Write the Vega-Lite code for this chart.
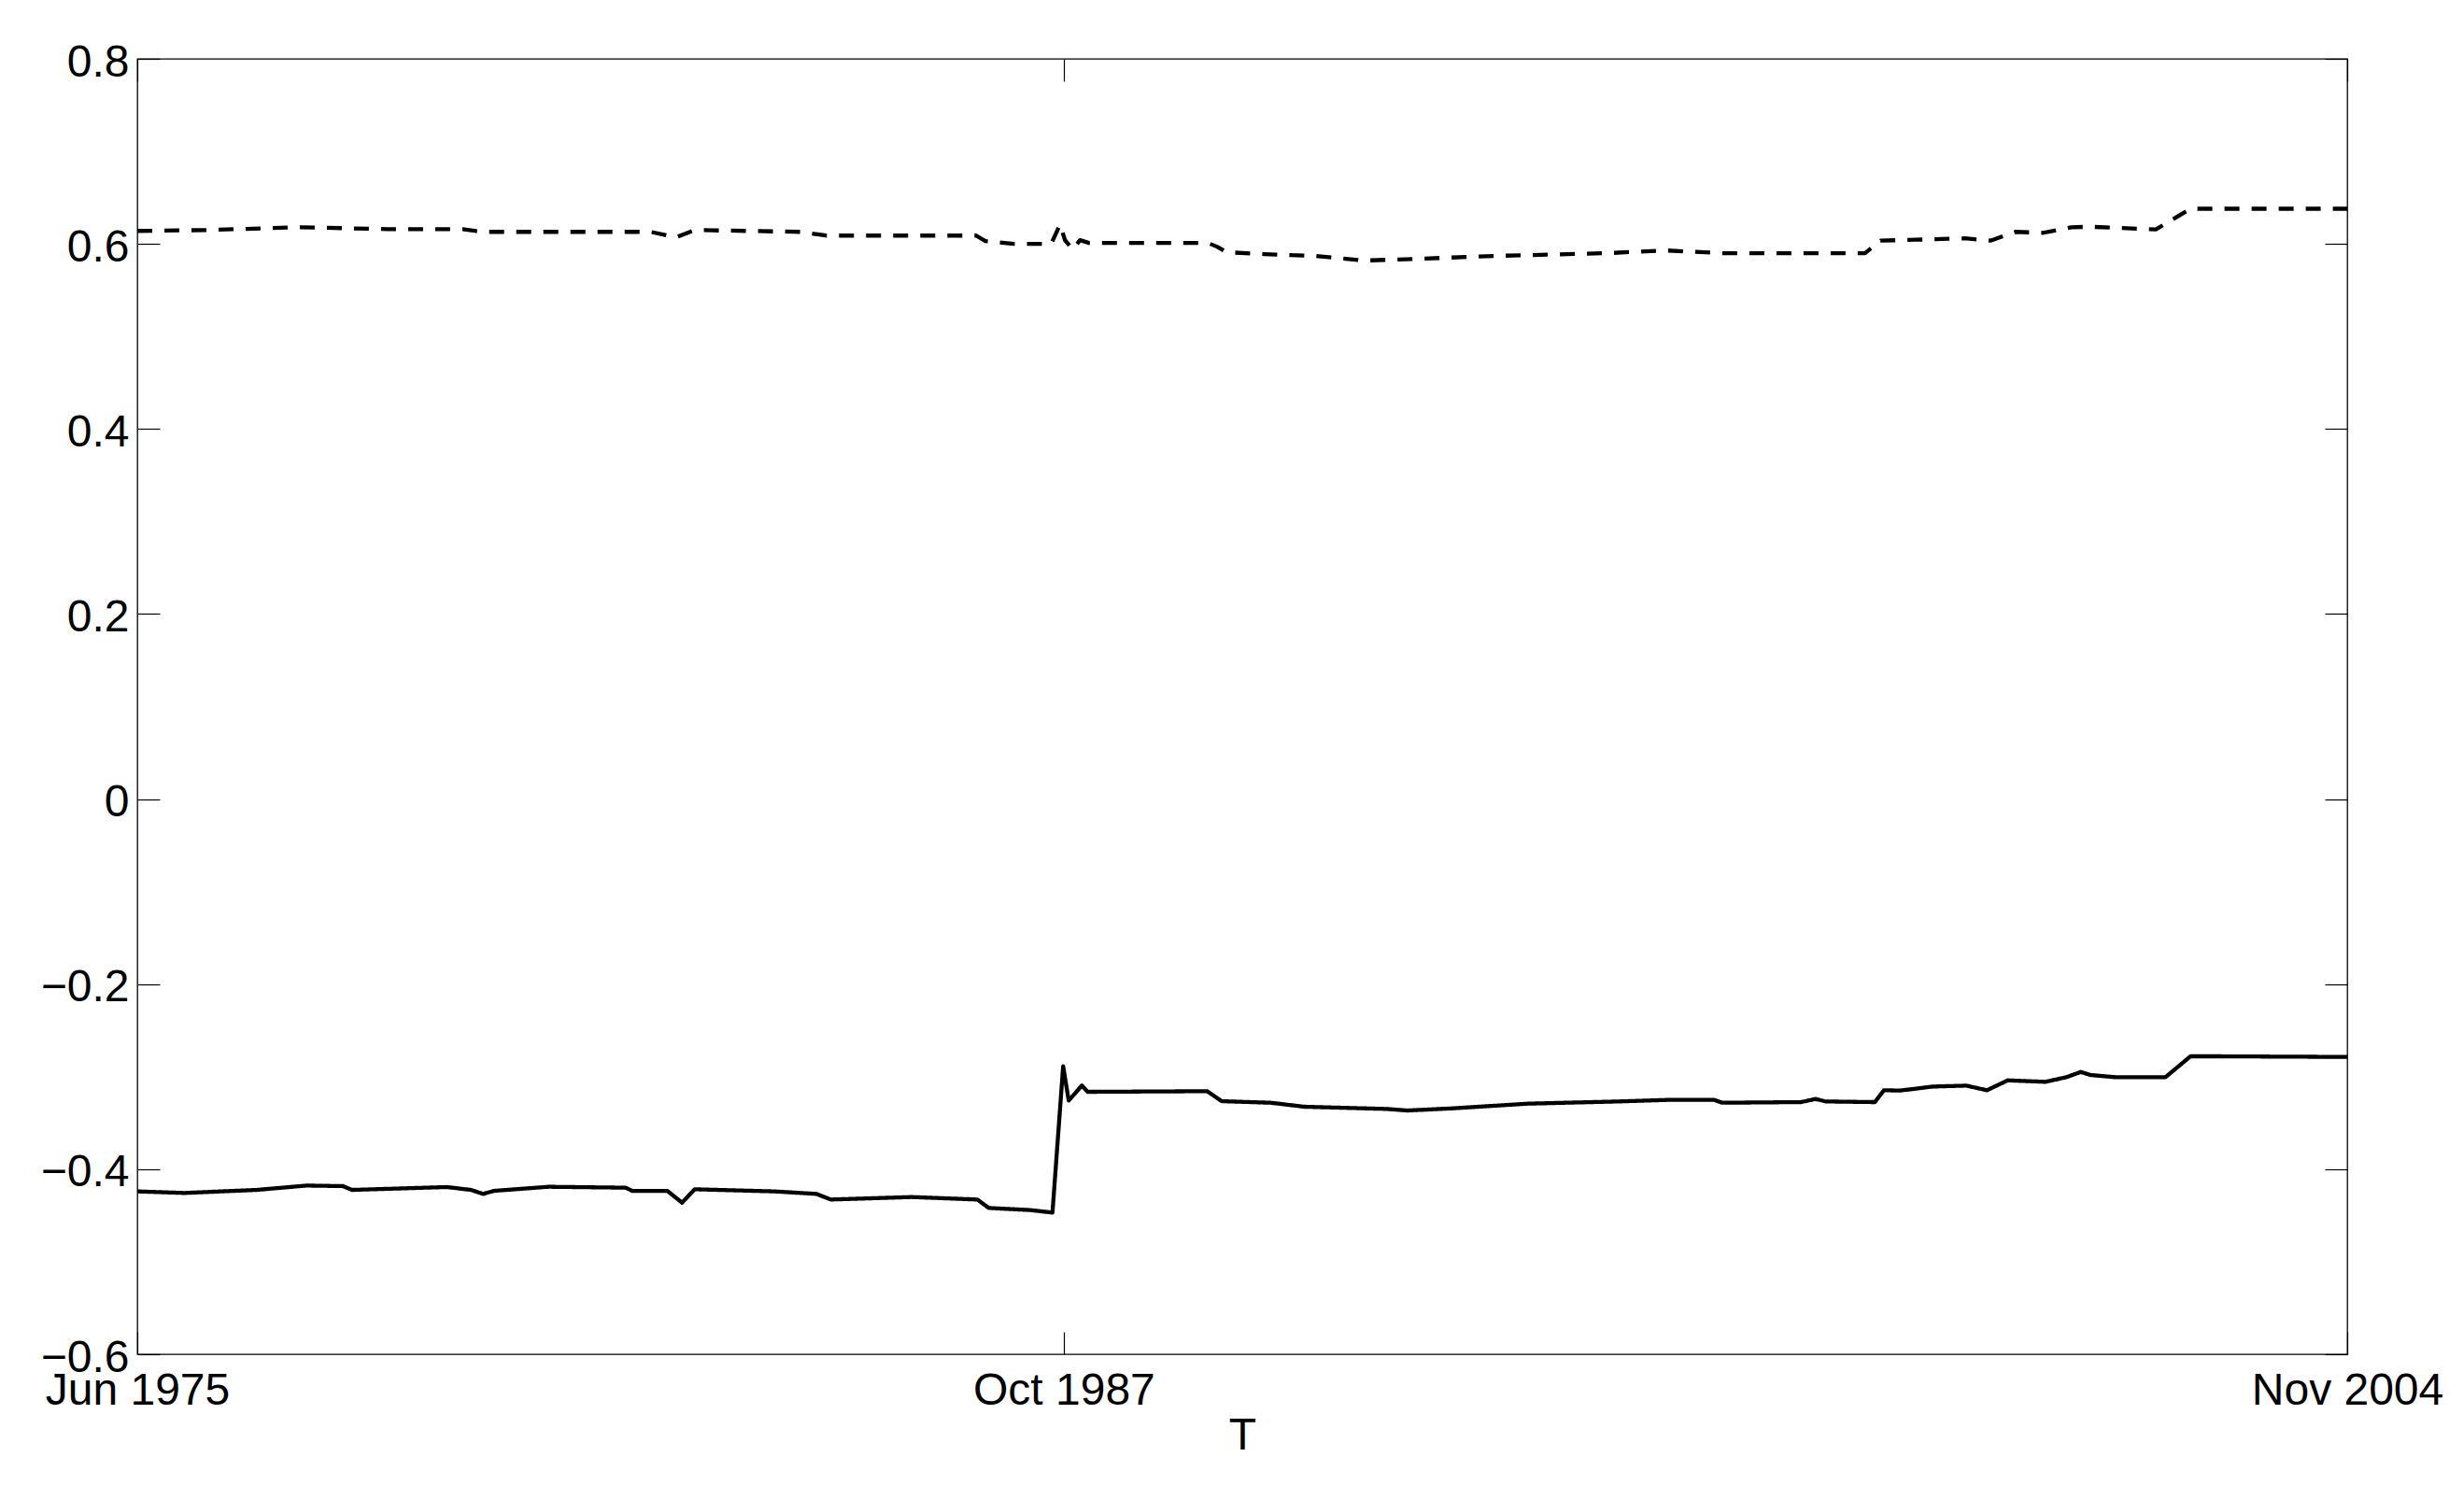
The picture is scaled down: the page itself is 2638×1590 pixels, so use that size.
{
  "$schema": "https://vega.github.io/schema/vega-lite/v6.json",
  "width": 2366,
  "height": 1387,
  "autosize": {"type": "none"},
  "padding": {"left": 147, "top": 63, "right": 125, "bottom": 140},
  "background": "white",
  "config": {
    "font": "Liberation Sans",
    "view": {"stroke": "#000", "strokeWidth": 1.3},
    "axis": {
      "domain": false,
      "grid": false,
      "tickColor": "#000",
      "tickWidth": 1.2,
      "tickSize": -24,
      "labelColor": "#000",
      "labelFontSize": 48,
      "labelFont": "Liberation Sans",
      "labelFlush": false,
      "labelOverlap": false,
      "labelBound": false,
      "labelLimit": 0,
      "titleColor": "#000",
      "titleFont": "Liberation Sans",
      "titleFontSize": 48,
      "titleFontWeight": "normal"
    }
  },
  "datasets": {
    "series": [
      {"date": "1975-06-01", "series": "upper", "value": 0.614},
      {"date": "1976-05-01", "series": "upper", "value": 0.615},
      {"date": "1977-08-01", "series": "upper", "value": 0.618},
      {"date": "1978-10-01", "series": "upper", "value": 0.616},
      {"date": "1979-10-01", "series": "upper", "value": 0.616},
      {"date": "1980-01-01", "series": "upper", "value": 0.613},
      {"date": "1981-02-01", "series": "upper", "value": 0.613},
      {"date": "1982-04-01", "series": "upper", "value": 0.613},
      {"date": "1982-08-01", "series": "upper", "value": 0.607},
      {"date": "1982-11-01", "series": "upper", "value": 0.615},
      {"date": "1984-04-01", "series": "upper", "value": 0.613},
      {"date": "1984-08-01", "series": "upper", "value": 0.609},
      {"date": "1986-08-01", "series": "upper", "value": 0.609},
      {"date": "1986-09-15", "series": "upper", "value": 0.603},
      {"date": "1987-02-01", "series": "upper", "value": 0.600},
      {"date": "1987-08-01", "series": "upper", "value": 0.600},
      {"date": "1987-09-13", "series": "upper", "value": 0.621},
      {"date": "1987-10-07", "series": "upper", "value": 0.604},
      {"date": "1987-11-13", "series": "upper", "value": 0.594},
      {"date": "1987-12-19", "series": "upper", "value": 0.604},
      {"date": "1988-02-01", "series": "upper", "value": 0.601},
      {"date": "1989-09-01", "series": "upper", "value": 0.601},
      {"date": "1989-10-15", "series": "upper", "value": 0.597},
      {"date": "1989-12-01", "series": "upper", "value": 0.591},
      {"date": "1990-06-01", "series": "upper", "value": 0.589},
      {"date": "1991-02-01", "series": "upper", "value": 0.587},
      {"date": "1991-10-01", "series": "upper", "value": 0.582},
      {"date": "1992-07-01", "series": "upper", "value": 0.584},
      {"date": "1993-07-01", "series": "upper", "value": 0.587},
      {"date": "1995-01-01", "series": "upper", "value": 0.590},
      {"date": "1995-10-01", "series": "upper", "value": 0.593},
      {"date": "1996-07-01", "series": "upper", "value": 0.590},
      {"date": "1998-06-01", "series": "upper", "value": 0.590},
      {"date": "1998-08-15", "series": "upper", "value": 0.6035},
      {"date": "1999-02-01", "series": "upper", "value": 0.6045},
      {"date": "1999-10-01", "series": "upper", "value": 0.606},
      {"date": "2000-02-01", "series": "upper", "value": 0.6035},
      {"date": "2000-06-01", "series": "upper", "value": 0.613},
      {"date": "2000-10-15", "series": "upper", "value": 0.612},
      {"date": "2001-03-01", "series": "upper", "value": 0.618},
      {"date": "2001-06-01", "series": "upper", "value": 0.6185},
      {"date": "2002-04-15", "series": "upper", "value": 0.6156},
      {"date": "2002-10-01", "series": "upper", "value": 0.638},
      {"date": "2004-11-01", "series": "upper", "value": 0.638},

      {"date": "1975-06-01", "series": "lower", "value": -0.424},
      {"date": "1976-01-15", "series": "lower", "value": -0.4257},
      {"date": "1977-01-01", "series": "lower", "value": -0.4224},
      {"date": "1977-09-01", "series": "lower", "value": -0.4177},
      {"date": "1978-02-25", "series": "lower", "value": -0.4183},
      {"date": "1978-04-10", "series": "lower", "value": -0.4224},
      {"date": "1979-07-15", "series": "lower", "value": -0.4193},
      {"date": "1979-11-10", "series": "lower", "value": -0.4224},
      {"date": "1980-01-07", "series": "lower", "value": -0.4267},
      {"date": "1980-03-01", "series": "lower", "value": -0.4234},
      {"date": "1980-11-21", "series": "lower", "value": -0.419},
      {"date": "1981-12-01", "series": "lower", "value": -0.420},
      {"date": "1982-01-01", "series": "lower", "value": -0.4234},
      {"date": "1982-06-21", "series": "lower", "value": -0.4234},
      {"date": "1982-09-01", "series": "lower", "value": -0.4362},
      {"date": "1982-11-01", "series": "lower", "value": -0.4217},
      {"date": "1983-11-24", "series": "lower", "value": -0.424},
      {"date": "1984-06-15", "series": "lower", "value": -0.4267},
      {"date": "1984-08-24", "series": "lower", "value": -0.4328},
      {"date": "1985-09-21", "series": "lower", "value": -0.4301},
      {"date": "1986-08-07", "series": "lower", "value": -0.4328},
      {"date": "1986-10-01", "series": "lower", "value": -0.4419},
      {"date": "1987-04-21", "series": "lower", "value": -0.4442},
      {"date": "1987-08-07", "series": "lower", "value": -0.4469},
      {"date": "1987-09-28", "series": "lower", "value": -0.2888},
      {"date": "1987-10-25", "series": "lower", "value": -0.3258},
      {"date": "1987-12-28", "series": "lower", "value": -0.3096},
      {"date": "1988-01-25", "series": "lower", "value": -0.3164},
      {"date": "1989-08-28", "series": "lower", "value": -0.3157},
      {"date": "1989-11-07", "series": "lower", "value": -0.3265},
      {"date": "1990-07-04", "series": "lower", "value": -0.3282},
      {"date": "1990-12-13", "series": "lower", "value": -0.3325},
      {"date": "1992-01-19", "series": "lower", "value": -0.3349},
      {"date": "1992-04-28", "series": "lower", "value": -0.3366},
      {"date": "1992-12-07", "series": "lower", "value": -0.3342},
      {"date": "1993-12-04", "series": "lower", "value": -0.3292},
      {"date": "1995-02-19", "series": "lower", "value": -0.3268},
      {"date": "1995-10-19", "series": "lower", "value": -0.3251},
      {"date": "1996-05-28", "series": "lower", "value": -0.3251},
      {"date": "1996-07-07", "series": "lower", "value": -0.3282},
      {"date": "1997-07-25", "series": "lower", "value": -0.3275},
      {"date": "1997-10-04", "series": "lower", "value": -0.3241},
      {"date": "1997-11-22", "series": "lower", "value": -0.3268},
      {"date": "1998-07-19", "series": "lower", "value": -0.3275},
      {"date": "1998-09-01", "series": "lower", "value": -0.3147},
      {"date": "1998-11-19", "series": "lower", "value": -0.3150},
      {"date": "1999-04-28", "series": "lower", "value": -0.3107},
      {"date": "1999-10-07", "series": "lower", "value": -0.3097},
      {"date": "2000-01-15", "series": "lower", "value": -0.3147},
      {"date": "2000-04-25", "series": "lower", "value": -0.304},
      {"date": "2000-10-25", "series": "lower", "value": -0.3056},
      {"date": "2001-02-04", "series": "lower", "value": -0.3006},
      {"date": "2001-04-15", "series": "lower", "value": -0.2949},
      {"date": "2001-06-01", "series": "lower", "value": -0.2982},
      {"date": "2001-10-01", "series": "lower", "value": -0.3006},
      {"date": "2002-06-01", "series": "lower", "value": -0.3006},
      {"date": "2002-10-01", "series": "lower", "value": -0.278},
      {"date": "2003-01-28", "series": "lower", "value": -0.278},
      {"date": "2004-11-01", "series": "lower", "value": -0.2787}
    ]
  },
  "data": {"name": "series"},
  "layer": [
    {
      "mark": {"type": "line", "color": "#000", "strokeWidth": 4.3, "strokeCap": "butt", "strokeJoin": "round", "clip": true},
      "encoding": {
        "x": {
          "field": "date", "type": "temporal",
          "scale": {"type": "utc", "domain": [{"year": 1975, "month": 6, "date": 1, "utc": true}, {"year": 2004, "month": 11, "date": 1, "utc": true}]},
          "axis": {
            "orient": "bottom",
            "values": [{"year": 1975, "month": 6, "date": 1, "utc": true}, {"year": 1987, "month": 10, "date": 1, "utc": true}, {"year": 2004, "month": 11, "date": 1, "utc": true}],
            "labelExpr": "utcFormat(datum.value, '%b %Y')",
            "labelPadding": 39, "labelAlign": "center", "labelBaseline": "top",
            "title": "T", "titleY": 63, "titleBaseline": "top", "titleAnchor": "middle"
          }
        },
        "y": {
          "field": "value", "type": "quantitative",
          "scale": {"domain": [-0.6, 0.8], "nice": false, "zero": false},
          "axis": {
            "orient": "left",
            "values": [-0.6, -0.4, -0.2, 0, 0.2, 0.4, 0.6, 0.8],
            "format": ".1~f",
            "labelPadding": 33, "labelAlign": "right", "labelBaseline": "middle", "labelOffset": 4,
            "title": null
          }
        },
        "detail": {"field": "series", "type": "nominal"},
        "strokeDash": {
          "field": "series", "type": "nominal",
          "scale": {"domain": ["upper", "lower"], "range": [[16, 13], [1, 0]]},
          "legend": null
        }
      }
    },
    {
      "mark": {"type": "line", "opacity": 0},
      "encoding": {
        "x": {
          "field": "date", "type": "temporal",
          "scale": {"type": "utc", "domain": [{"year": 1975, "month": 6, "date": 1, "utc": true}, {"year": 2004, "month": 11, "date": 1, "utc": true}]},
          "axis": {
            "orient": "top",
            "values": [{"year": 1975, "month": 6, "date": 1, "utc": true}, {"year": 1987, "month": 10, "date": 1, "utc": true}, {"year": 2004, "month": 11, "date": 1, "utc": true}],
            "labels": false, "title": null
          }
        },
        "y": {
          "field": "value", "type": "quantitative",
          "scale": {"domain": [-0.6, 0.8], "nice": false, "zero": false},
          "axis": {
            "orient": "right",
            "values": [-0.6, -0.4, -0.2, 0, 0.2, 0.4, 0.6, 0.8],
            "labels": false, "title": null
          }
        },
        "detail": {"field": "series", "type": "nominal"}
      }
    }
  ],
  "resolve": {"scale": {"x": "independent", "y": "independent"}}
}
